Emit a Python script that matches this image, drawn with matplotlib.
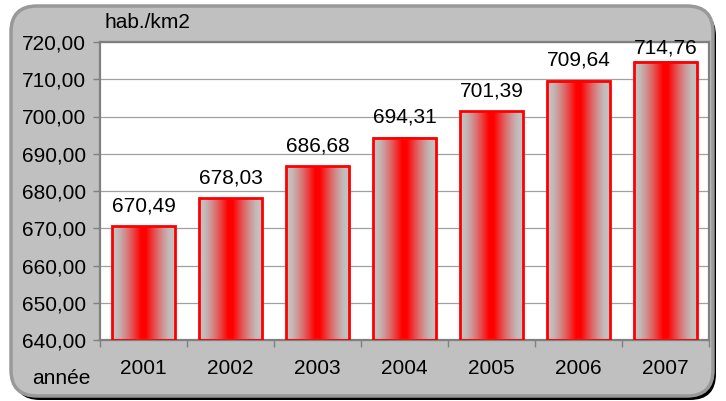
#!/usr/bin/env python3
"""Population density bar chart (hab./km2) by year."""

import matplotlib

matplotlib.use("Agg")
import matplotlib.pyplot as plt
import matplotlib.transforms as mtransforms
from matplotlib.patches import FancyBboxPatch
import numpy as np

YEARS = ["2001", "2002", "2003", "2004", "2005", "2006", "2007"]
DENSITY = [670.49, 678.03, 686.68, 694.31, 701.39, 709.64, 714.76]
Y_MIN, Y_MAX, Y_STEP = 640, 720, 10

GRAY = np.array([0.76, 0.75, 0.75])
RED = np.array([1.0, 0.0, 0.0])

plt.rcParams.update({
    "font.family": ["Liberation Sans", "DejaVu Sans"],
    "font.size": 15,
})

W, H = 726, 401
fig = plt.figure(figsize=(W / 100, H / 100), dpi=100)
fig.patch.set_facecolor("white")

ident = mtransforms.IdentityTransform()
shadow = FancyBboxPatch((14, 1), W - 24, H - 11, boxstyle="round,pad=0,rounding_size=26",
                        transform=ident, facecolor="black", edgecolor="none", zorder=0)
frame = FancyBboxPatch((11, 5), W - 24, H - 11, boxstyle="round,pad=0,rounding_size=26",
                       transform=ident, facecolor="#c0c0c0", edgecolor="#999999",
                       linewidth=2.5, zorder=1)
fig.patches.extend([shadow, frame])

ax = fig.add_axes([100 / W, 1 - 340 / H, 609 / W, 298 / H], zorder=2)
ax.set_facecolor("white")

x = np.arange(len(YEARS))
width = 0.72

# horizontal gray-red-gray gradient
xs = np.linspace(0, 1, 200)
d = np.abs(2 * xs - 1)
t = np.clip((0.88 - d) / 0.8, 0, 1) ** 1.3
grad = (GRAY[None, :] * (1 - t[:, None]) + RED[None, :] * t[:, None])[None, :, :]

for xi, v in zip(x, DENSITY):
    ax.imshow(grad, extent=[xi - width / 2, xi + width / 2, Y_MIN, v],
              aspect="auto", interpolation="bilinear", zorder=2)
    ax.text(xi, min(v + 4.0, Y_MAX - 3.0), f"{v:.2f}".replace(".", ","),
            ha="center", va="baseline", fontsize=15, zorder=4, clip_on=False)

ax.bar(x, [v - Y_MIN for v in DENSITY], width, bottom=Y_MIN, facecolor="none",
       edgecolor="red", linewidth=2.0, zorder=3)

ax.set_xlim(-0.5, len(YEARS) - 0.5)
ax.set_ylim(Y_MIN, Y_MAX)
yticks = np.arange(Y_MIN, Y_MAX + 1, Y_STEP)
ax.set_yticks(yticks)
ax.set_yticklabels([f"{v:.2f}".replace(".", ",") for v in yticks])
ax.set_xticks(x)
ax.set_xticklabels(YEARS)
ax.set_xticks(np.arange(-0.5, len(YEARS)), minor=True)
ax.tick_params(axis="x", which="major", length=0, pad=14)
ax.tick_params(axis="x", which="minor", length=5, color="#808080", width=1)
ax.tick_params(axis="y", length=5, color="#808080", width=1, pad=5)

ax.grid(True, axis="y", color="#a0a0a0", linewidth=0.9)
ax.set_axisbelow(True)
for spine in ax.spines.values():
    spine.set_color("#808080")
    spine.set_linewidth(1.6)

fig.text(105 / W, 1 - 22 / H, "hab./km2", ha="left", va="center", fontsize=15, zorder=5)
fig.text(32 / W, 1 - 379 / H, "année", ha="left", va="center", fontsize=15, zorder=5)

fig.savefig("out.png", dpi=100)
